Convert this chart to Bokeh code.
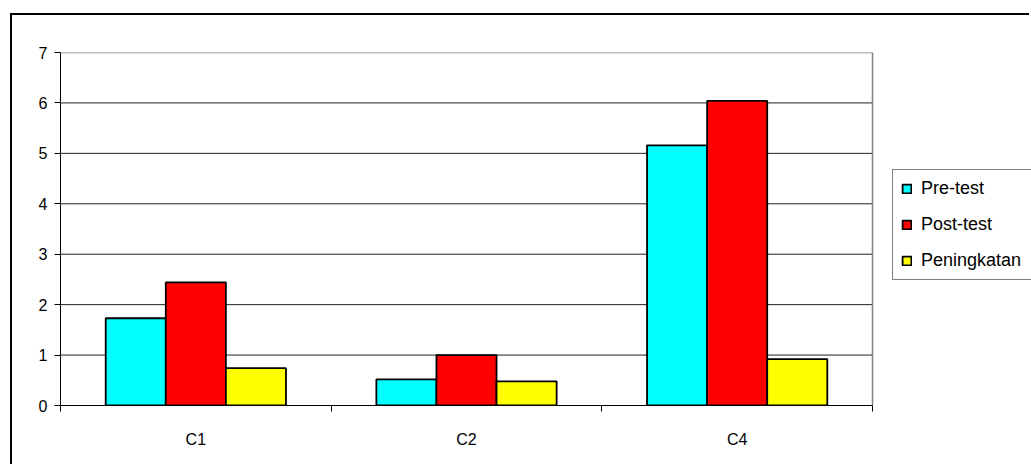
import numpy as np
from bokeh.plotting import figure
from bokeh.models import Range1d, FixedTicker, Legend, LegendItem, ColumnDataSource
from bokeh.transform import dodge
from bokeh.embed import file_html
from bokeh.resources import INLINE

categories = ["C1", "C2", "C4"]
pre_test = [1.73, 0.52, 5.16]
post_test = [2.44, 1.00, 6.04]
peningkatan = [0.74, 0.48, 0.92]
series_names = ["Pre-test", "Post-test", "Peningkatan"]
y_ticks = [0, 1, 2, 3, 4, 5, 6, 7]

FONT = "Liberation Sans"
n = len(categories)

# layout geometry (pixels): canvas, frame and plot-area widths
W, H = 1019, 451
LEFT = 48
PLOT_W = 812                     # width of the bar area
FRAME_W = W - LEFT               # frame extends to the right edge (legend lives there)
x_end = n * FRAME_W / PLOT_W

src = ColumnDataSource(dict(
    x=np.arange(n) + 0.5,
    pre=pre_test, post=post_test, pen=peningkatan,
))

p = figure(width=W, height=H, output_backend="svg", toolbar_location=None,
           x_range=Range1d(0, x_end), y_range=Range1d(0, 7),
           min_border_left=LEFT, min_border_right=0, min_border_top=37,
           min_border_bottom=61, background_fill_color="white",
           border_fill_color="white")
p.styles = {"margin-left": "10px", "margin-top": "13px",
            "border-top": "2px solid black", "border-left": "2px solid black"}

# grid lines and right border of the plot area
p.segment(x0=0, x1=n, y0=y_ticks[:-1], y1=y_ticks[:-1], line_color="#202020", line_width=1)
p.segment(x0=0, x1=n, y0=y_ticks[-1], y1=y_ticks[-1], line_color="#808080", line_width=1.5)
p.segment(x0=n, x1=n, y0=y_ticks[0], y1=y_ticks[-1], line_color="#808080", line_width=1.5)

bw = 0.222
cols = ["#00FFFF", "#FF0000", "#FFFF00"]
fields = ["pre", "post", "pen"]
offs = [-bw, 0.0, bw]
renderers = []
for f, c, o in zip(fields, cols, offs):
    r = p.vbar(x=dodge("x", o, range=p.x_range), top=f, width=bw, bottom=0,
               source=src, fill_color=c, line_color="black", line_width=1.8)
    renderers.append(r)

# x axis: labels at centres, ticks at category boundaries
xt = FixedTicker(ticks=list(np.arange(n) + 0.5), minor_ticks=list(range(n + 1)))
p.xaxis.ticker = xt
p.xaxis.bounds = (0, n)
p.xaxis.major_label_overrides = {float(i + 0.5): c for i, c in enumerate(categories)}
p.xaxis.major_tick_line_color = None
p.xaxis.major_tick_out = 0
p.xaxis.major_tick_in = 0
p.xaxis.minor_tick_line_color = "black"
p.xaxis.minor_tick_out = 6
p.xaxis.minor_tick_in = 0
p.xaxis.major_label_standoff = 19
p.xaxis.axis_line_color = "black"

p.yaxis.ticker = FixedTicker(ticks=y_ticks)
p.yaxis.major_tick_out = 6
p.yaxis.major_tick_in = 0
p.yaxis.minor_tick_line_color = None
p.yaxis.major_label_standoff = 7
p.yaxis.axis_line_color = "black"

for ax in (p.xaxis, p.yaxis):
    ax.major_label_text_font = FONT
    ax.major_label_text_font_size = "16px"
    ax.major_label_text_color = "black"

p.xgrid.grid_line_color = None
p.ygrid.grid_line_color = None
p.outline_line_color = None

legend = Legend(items=[LegendItem(label=nm, renderers=[r]) for nm, r in zip(series_names, renderers)],
                location=(PLOT_W + 20, 125), orientation="vertical",
                label_text_font=FONT, label_text_font_size="18px",
                label_text_color="black",
                glyph_width=11, glyph_height=11, label_standoff=9,
                label_width=112, label_height=20,
                spacing=15, padding=8, margin=0,
                border_line_color="black", border_line_width=1.5,
                background_fill_color="white", background_fill_alpha=1)
p.add_layout(legend, "center")

open("out.html", "w").write(file_html(p, INLINE))
